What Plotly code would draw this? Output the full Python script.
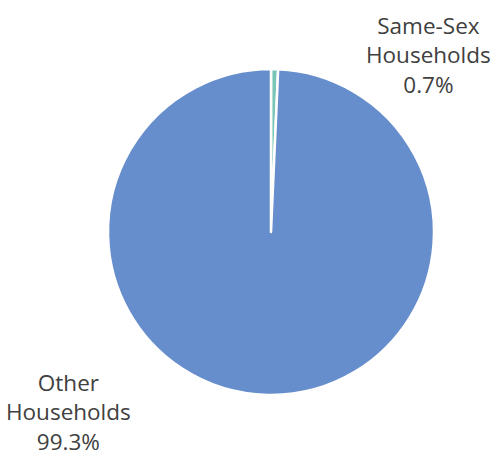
import plotly.graph_objects as go

# Household composition shares (%)
categories = ["Same-Sex<br>Households", "Other<br>Households"]
shares = [0.7, 99.3]
slice_colors = ["#79C6B8", "#678ECC"]

W, H = 492, 457
cx, cy, r = 271, 232, 163

fig = go.Figure(
    go.Pie(
        labels=categories,
        values=shares,
        sort=False,
        direction="clockwise",
        rotation=0,
        marker=dict(colors=slice_colors, line=dict(color="white", width=2.5)),
        textinfo="none",
        hoverinfo="label+percent",
        showlegend=False,
        domain=dict(
            x=[(cx - r) / W, (cx + r) / W],
            y=[(H - cy - r) / H, (H - cy + r) / H],
        ),
    )
)

# Outside labels: category name plus its share
label_pos = [(428, 55), (68, 412)]
for name, val, (lx, ly) in zip(categories, shares, label_pos):
    fig.add_annotation(
        x=lx / W, y=1 - ly / H, xref="paper", yref="paper",
        text=f"{name}<br>{val:.1f}%",
        showarrow=False, align="center",
        xanchor="center", yanchor="middle",
        font=dict(family="Open Sans", size=22.5, color="#404040"),
    )

fig.update_layout(
    width=W, height=H,
    margin=dict(l=0, r=0, t=0, b=0),
    paper_bgcolor="white",
    plot_bgcolor="white",
)

fig.write_html("out.html")
